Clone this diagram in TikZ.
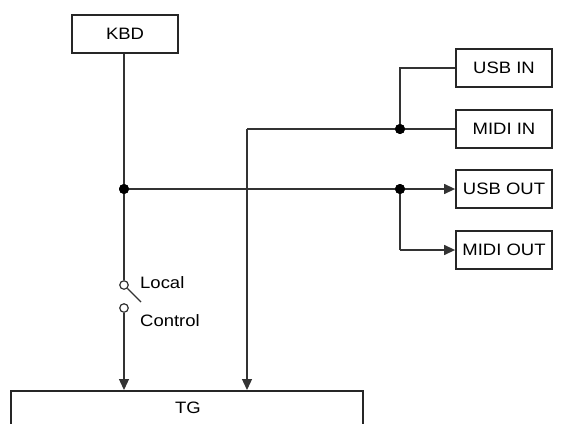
\documentclass[tikz,border=0pt]{standalone}
\usepackage{fontspec}
\setmainfont{Liberation Sans}[FakeStretch=1.12]
\usetikzlibrary{arrows.meta}
\begin{document}
\begin{tikzpicture}[x=1pt,y=-1pt,
  box/.style={draw=black!85,line width=1.8pt,minimum height=38pt,inner sep=0pt,font=\fontsize{16.5}{18}\selectfont},
  wire/.style={draw=black!80,line width=1.3pt},
  arr/.style={wire,-{Triangle[length=11pt,width=10pt]}},
  jdot/.style={circle,fill=black,inner sep=0pt,minimum size=10pt},
  sw/.style={circle,draw=black!80,line width=1.2pt,inner sep=0pt,minimum size=8.5pt},
  lbl/.style={font=\fontsize{16.5}{18}\selectfont,anchor=west,inner sep=0pt}]
\useasboundingbox (0,0) rectangle (562,423);
\clip (0,0) rectangle (562,423);
\node[box,minimum width=106pt] (kbd) at (125,34) {KBD};
\node[box,minimum width=96pt] (usbin) at (504,68) {USB IN};
\node[box,minimum width=96pt] (midiin) at (504,129) {MIDI IN};
\node[box,minimum width=96pt] (usbout) at (504,189) {USB OUT};
\node[box,minimum width=96pt] (midiout) at (504,250) {MIDI OUT};
\node[draw=black!85,line width=1.8pt,minimum width=352pt,minimum height=60pt,anchor=north west,inner sep=0pt] (tg) at (10,390) {};
\node[font=\fontsize{16.5}{18}\selectfont] (tgl) at (188,408) {TG};
\node[jdot] (d1) at (124,189) {};
\node[jdot] (d2) at (400,189) {};
\node[jdot] (d3) at (400,129) {};
\node[sw] (s1) at (124,285) {};
\node[sw] (s2) at (124,308) {};
\coordinate (lev) at (141,302);
\coordinate (c1) at (400,68);
\coordinate (c2) at (247,129);
\coordinate (c3) at (400,250);
\node[lbl] (local) at (140,283) {Local};
\node[lbl] (control) at (140,321) {Control};
% wires
\draw[wire] (kbd.south -| s1) -- (s1.north);
\draw[wire] (s1.-45) -- (lev);
\draw[arr] (s2.south) -- (s2 |- tg.north);
\draw[wire] (d1.center) -- (d2.center);
\draw[arr] (d2.center) -- (usbout.west);
\draw[wire] (d2.center) -- (c3) ;
\draw[arr] (c3) -- (midiout.west);
\draw[wire] (usbin.west) -- (c1) -- (d3.center);
\draw[wire] (midiin.west) -- (c2);
\draw[arr] (c2) -- (c2 |- tg.north);
\node[jdot] at (d1) {};
\node[jdot] at (d2) {};
\node[jdot] at (d3) {};
\end{tikzpicture}
\end{document}
